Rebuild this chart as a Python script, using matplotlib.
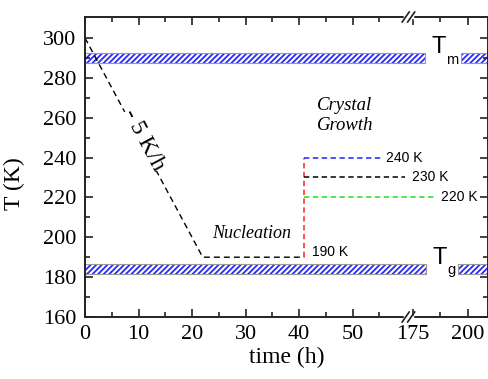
import numpy as np
import matplotlib
matplotlib.use("Agg")
import matplotlib.pyplot as plt
from matplotlib.ticker import FixedLocator

# ---- data (time in h, temperature in K) ----
cool_t = [0, 22, 41]
cool_T = [300, 190, 190]
jump_t = [41, 41]
jump_T = [190, 240]
anneal_T = [240, 230, 220]
anneal_end = [55.5, 59.8, 185]
anneal_colors = ['#2020ff', 'black', '#20e020']
anneal_labels = ['240 K', '230 K', '220 K']
Tm_band = [287.5, 292.5]
Tg_band = [181.5, 186.5]
x_major = [0, 10, 20, 30, 40, 50, 175, 200]
x_minor = [5, 15, 25, 35, 45, 55, 187.5]

# broken time axis: 0..60.4 linear, then 172.8.. compressed
BRK_LO, BRK_HI, SQ = 60.4, 172.8, 0.411
XMAX = 209.1


def fwd(x):
    x = np.asarray(x, float)
    return np.where(x <= BRK_LO, x,
                    np.where(x >= BRK_HI, BRK_LO + (x - BRK_HI) * SQ, BRK_LO))


def inv(u):
    u = np.asarray(u, float)
    return np.where(u <= BRK_LO, u, BRK_HI + (u - BRK_LO) / SQ)


serif = 'Liberation Serif'
sans = 'Liberation Sans'
ink = '#222222'
plt.rcParams['hatch.linewidth'] = 1.3

fig = plt.figure(figsize=(4.89, 3.79), dpi=100)
ax = fig.add_axes([85 / 489, 62 / 379, 403 / 489, 300 / 379])
ax.set_xscale('function', functions=(fwd, inv))
ax.set_xlim(0, XMAX)
ax.set_ylim(160, 310.5)

# melting / glass bands, interrupted for the labels
for band, gaps in [(Tm_band, (180.5, 196.8)), (Tg_band, (180.9, 195.3))]:
    for a, b in [(0, gaps[0]), (gaps[1], XMAX + 5)]:
        ax.fill_between([a, b], band[0], band[1], facecolor='white',
                        edgecolor='#2828ff', hatch='//////', linewidth=0, zorder=1)
        ax.fill_between([a, b], band[0], band[1], facecolor='none',
                        edgecolor='#9a9a9a', linewidth=0.8, zorder=1.5)

# thermal history
ax.plot(cool_t, cool_T, color='black', lw=1, dashes=(4.3, 2.9), zorder=2)
ax.plot(jump_t, jump_T, color='#ff2020', lw=1.1, dashes=(3.5, 2.3), zorder=3)
for T, end, c in zip(anneal_T, anneal_end, anneal_colors):
    ax.plot([41, end], [T, T], color=c, lw=1.1, dashes=(3.5, 2.3), zorder=3,
            clip_on=False)

# labels
ax.text(11.0, 249, '- 5 K/h', rotation=-62, rotation_mode='anchor',
        ha='center', va='center', family=serif, fontsize=17,
        bbox=dict(facecolor='white', edgecolor='none', pad=0), zorder=4)
ax.text(31.2, 202, 'Nucleation', family=serif, style='italic', fontsize=13,
        ha='center', va='center')
ax.text(48.6, 261, 'Crystal\nGrowth', family=serif, style='italic',
        fontsize=13.5, ha='center', va='center', linespacing=1.25)
ax.text(42.4, 192.6, '190 K', family=sans, fontsize=10, ha='left', va='center')
for T, lab, xl in zip(anneal_T, anneal_labels, [56.3, 174.4, 187.6]):
    ax.text(xl, T, lab, family=sans, fontsize=10, ha='left', va='center')

ax.text(183.6, 292.5, 'T', family=sans, fontsize=17, ha='left', va='baseline')
ax.text(190.2, 287.0, 'm', family=sans, fontsize=10.5, ha='left', va='baseline')
ax.text(184.0, 186.6, 'T', family=sans, fontsize=17, ha='left', va='baseline')
ax.text(190.6, 181.6, 'g', family=sans, fontsize=10.5, ha='left', va='baseline')

# axes styling
ax.xaxis.set_major_locator(FixedLocator(x_major))
ax.xaxis.set_minor_locator(FixedLocator(x_minor))
ax.set_xticklabels([str(v) for v in x_major])
ax.set_yticks(np.arange(160, 301, 20))
ax.set_yticks(np.arange(170, 300, 20), minor=True)
ax.tick_params(which='both', direction='in', top=True, right=True,
               color=ink, width=1.2, labelsize=16, pad=6)
ax.tick_params(which='major', length=6)
ax.tick_params(which='minor', length=3.5)
for lab in ax.get_xticklabels() + ax.get_yticklabels():
    lab.set_family(serif)
for s in ax.spines.values():
    s.set_color(ink)
    s.set_linewidth(1.4)

ax.set_xlabel('time (h)', family=serif, fontsize=17)
ax.set_ylabel('T (K)', family=serif, fontsize=17)
ax.xaxis.set_label_coords(0.5, -0.1)
ax.yaxis.set_label_coords(-0.15, 0.443)

# break marks on top and bottom spines
bx = BRK_LO / fwd(XMAX)
px, py = 1 / 403, 1 / 300
for y0 in (0, 1):
    ax.plot([bx - 3.5 * px, bx + 3.5 * px], [y0, y0], color='white', lw=2.5,
            transform=ax.transAxes, clip_on=False, zorder=5)
    for dx in (-2.5, 3.0):
        ax.plot([bx + (dx - 3.5) * px, bx + (dx + 3.5) * px],
                [y0 - 5 * py, y0 + 5 * py], color=ink, lw=1.2,
                transform=ax.transAxes, clip_on=False, zorder=6)

fig.savefig('out.png', dpi=100)
